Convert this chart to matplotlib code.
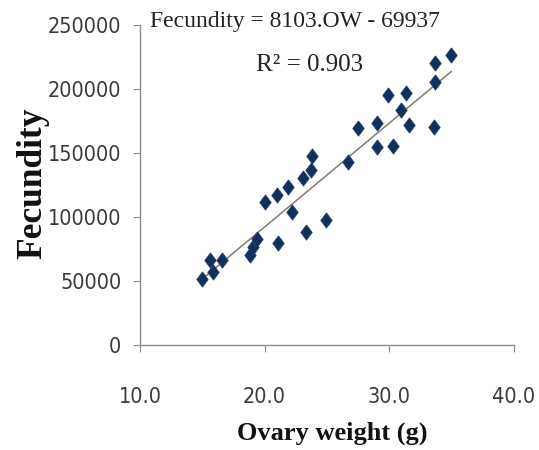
import matplotlib
matplotlib.use("Agg")
import matplotlib.pyplot as plt
import numpy as np
from matplotlib import font_manager

ovary_weight = [15.0, 15.6, 15.9, 16.6, 18.8, 19.1, 19.4, 20.0, 21.0, 21.9,
                22.2, 21.1, 23.1, 23.7, 23.8, 23.3, 24.9, 26.7, 27.5, 29.0,
                29.0, 30.3, 29.9, 31.4, 31.0, 31.6, 33.6, 33.7, 33.7, 35.0]
fecundity = [51500, 66400, 57300, 66400, 70300, 76600, 82800, 112000, 117200, 123400,
             104100, 79500, 130200, 136700, 147300, 88500, 97700, 143200, 169300, 173200,
             154900, 155500, 195300, 196600, 183600, 171900, 170100, 205700, 220100, 226600]
slope, intercept = 8103, -69937
equation_text = "Fecundity = 8103.OW - 69937"
r2_text = "R² = 0.903"
x_ticks = [10, 20, 30, 40]
y_ticks = [0, 50000, 100000, 150000, 200000, 250000]

serif = "Liberation Serif"
fp_tick = font_manager.FontProperties(family="DejaVu Sans", stretch="condensed", size=15.5)

fig = plt.figure(figsize=(5.39, 4.5), dpi=100)
ax = fig.add_axes([140/539, 1-345/450, (513.5-140)/539, (345-25)/450])

diamond = [(0, 1), (0.75, 0), (0, -1), (-0.75, 0), (0, 1)]
ax.scatter(ovary_weight, fecundity, marker=diamond, s=120, color="#13305a",
           edgecolors="#1d3f70", linewidths=0.6, zorder=3)
xs = np.array([min(ovary_weight), max(ovary_weight)])
ax.plot(xs, slope*xs + intercept, color="#857a6e", lw=1.1, zorder=2)

ax.set_xlim(10, 40)
ax.set_ylim(0, 250000)
ax.set_xticks(x_ticks)
ax.set_xticklabels([f"{v:.1f}" for v in x_ticks])
ax.set_yticks(y_ticks)
ax.set_yticklabels([str(v) for v in y_ticks])
for s in ["top", "right"]:
    ax.spines[s].set_visible(False)
for s in ["left", "bottom"]:
    ax.spines[s].set_color("#8c8c8c")
    ax.spines[s].set_linewidth(1.0)
ax.tick_params(axis="y", direction="out", length=5, color="#8c8c8c", pad=8.5,
               labelcolor="#3a3a3a")
ax.tick_params(axis="x", direction="out", length=5, color="#8c8c8c", pad=25,
               labelcolor="#3a3a3a")
for lab in ax.get_xticklabels() + ax.get_yticklabels():
    lab.set_fontproperties(fp_tick)

fig.text(33/539, 1-183/450, "Fecundity", rotation=90, ha="center", va="center",
         fontsize=25.5, fontweight="bold", family=serif, color="#111111")
fig.text(332/539, 1-433/450, "Ovary weight (g)", ha="center", va="center",
         fontsize=19, fontweight="bold", family=serif, color="#111111")
fig.text(295/539, 1-22/450, equation_text, ha="center", va="center",
         fontsize=17, family=serif, color="#222222")
fig.text(310/539, 1-65/450, r2_text, ha="center", va="center",
         fontsize=18, family=serif, color="#222222")

fig.savefig("out.png", dpi=100)
